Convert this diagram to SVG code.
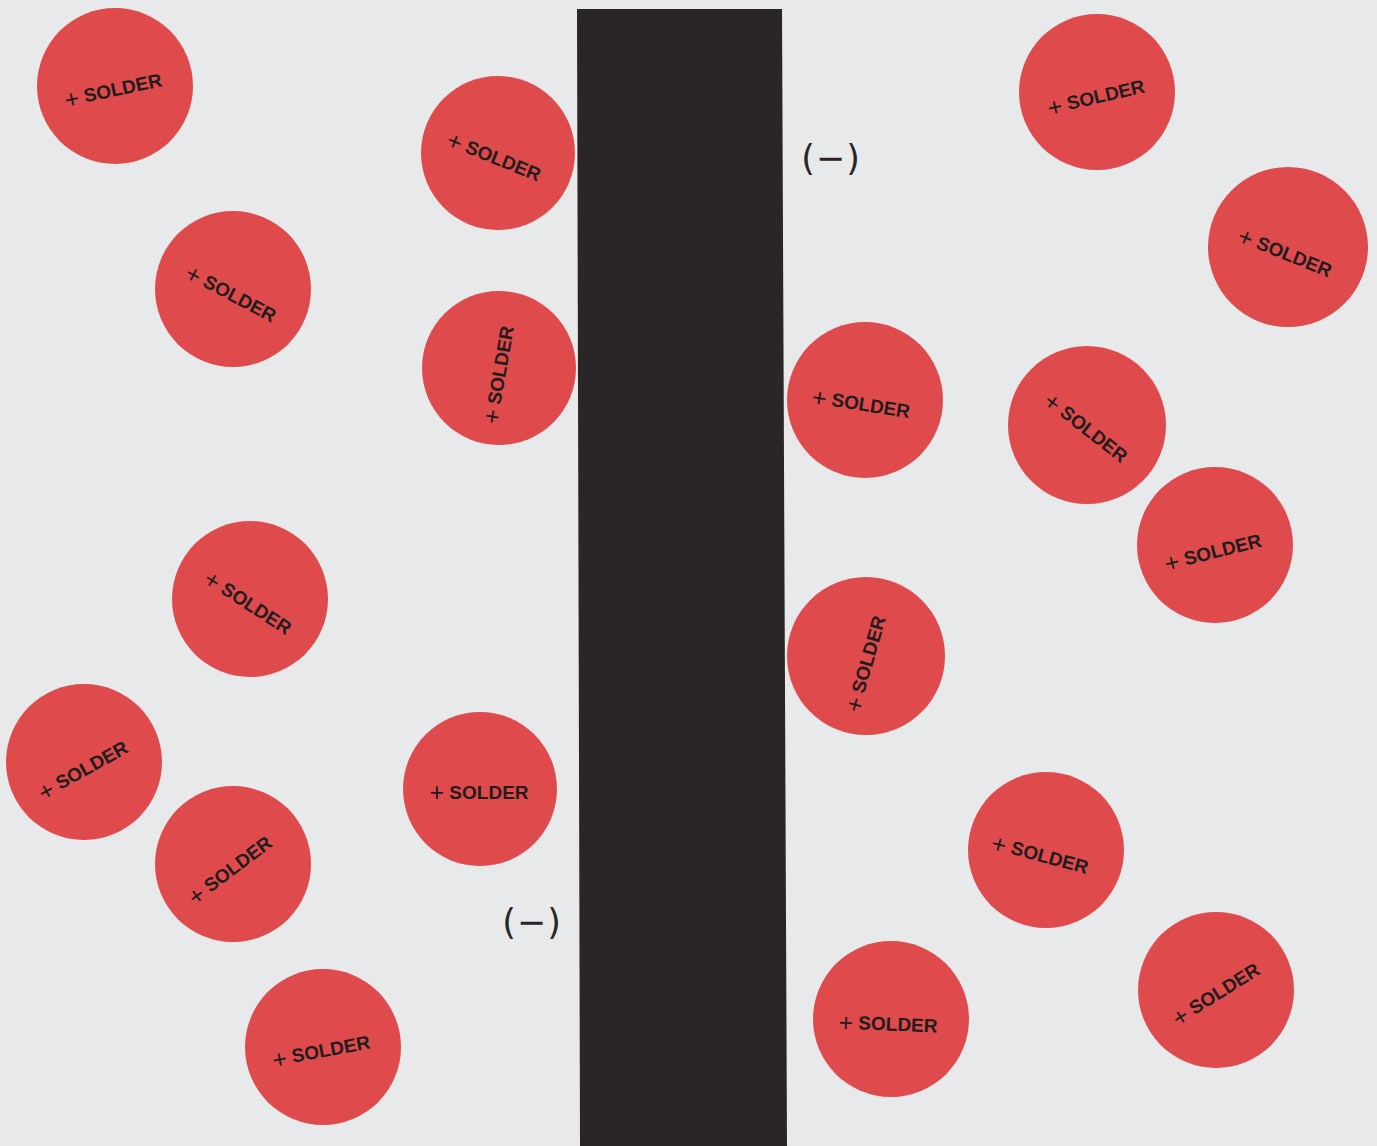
<svg xmlns="http://www.w3.org/2000/svg" width="1377" height="1146" viewBox="0 0 1377 1146">
<style>
.dot{fill:#df4b4d}
.lbl{font-family:"Liberation Sans",Arial,sans-serif;font-weight:700;font-size:19px;fill:#231c1d;text-anchor:middle;dominant-baseline:central}
.pl{font-size:25px;font-weight:400}
.neg{font-family:"DejaVu Sans","Liberation Sans",sans-serif;font-weight:400;font-size:35px;fill:#2a2627;text-anchor:middle;letter-spacing:1px}
</style>
<rect x="0" y="0" width="1377" height="1146" fill="#e8e9ea"/>
<g id="bar"><polygon points="577,9 782,9 787,1146 580,1146" fill="#2a2627"/></g>
<g id="neg-top"><text class="neg" x="831" y="170">(−)</text></g>
<g id="neg-bottom"><text class="neg" x="532" y="934">(−)</text></g>
<g id="s1"><circle class="dot" cx="115" cy="86" r="78"/><text class="lbl" transform="translate(113,90) rotate(-12)"><tspan class="pl">+</tspan> SOLDER</text></g>
<g id="s2"><circle class="dot" cx="498" cy="153" r="77"/><text class="lbl" transform="translate(494,157) rotate(22)"><tspan class="pl">+</tspan> SOLDER</text></g>
<g id="s3"><circle class="dot" cx="1097" cy="92" r="78"/><text class="lbl" transform="translate(1096,97) rotate(-13)"><tspan class="pl">+</tspan> SOLDER</text></g>
<g id="s4"><circle class="dot" cx="1288" cy="247" r="80"/><text class="lbl" transform="translate(1285,253) rotate(22)"><tspan class="pl">+</tspan> SOLDER</text></g>
<g id="s5"><circle class="dot" cx="233" cy="289" r="78"/><text class="lbl" transform="translate(231,294) rotate(28)"><tspan class="pl">+</tspan> SOLDER</text></g>
<g id="s6"><circle class="dot" cx="499" cy="368" r="77"/><text class="lbl" transform="translate(499,375) rotate(-80)"><tspan class="pl">+</tspan> SOLDER</text></g>
<g id="s7"><circle class="dot" cx="865" cy="400" r="78"/><text class="lbl" transform="translate(861,404) rotate(9)"><tspan class="pl">+</tspan> SOLDER</text></g>
<g id="s8"><circle class="dot" cx="1087" cy="425" r="79"/><text class="lbl" transform="translate(1086,428) rotate(38)"><tspan class="pl">+</tspan> SOLDER</text></g>
<g id="s9"><circle class="dot" cx="1215" cy="545" r="78"/><text class="lbl" transform="translate(1213,552) rotate(-14)"><tspan class="pl">+</tspan> SOLDER</text></g>
<g id="s10"><circle class="dot" cx="250" cy="599" r="78"/><text class="lbl" transform="translate(248,603) rotate(33)"><tspan class="pl">+</tspan> SOLDER</text></g>
<g id="s11"><circle class="dot" cx="866" cy="656" r="79"/><text class="lbl" transform="translate(866,664) rotate(-74)"><tspan class="pl">+</tspan> SOLDER</text></g>
<g id="s12"><circle class="dot" cx="84" cy="762" r="78"/><text class="lbl" transform="translate(83,770) rotate(-29)"><tspan class="pl">+</tspan> SOLDER</text></g>
<g id="s13"><circle class="dot" cx="480" cy="789" r="77"/><text class="lbl" transform="translate(479,792)"><tspan class="pl">+</tspan> SOLDER</text></g>
<g id="s14"><circle class="dot" cx="233" cy="864" r="78"/><text class="lbl" transform="translate(230,870) rotate(-37)"><tspan class="pl">+</tspan> SOLDER</text></g>
<g id="s15"><circle class="dot" cx="1046" cy="850" r="78"/><text class="lbl" transform="translate(1040,855) rotate(15)"><tspan class="pl">+</tspan> SOLDER</text></g>
<g id="s16"><circle class="dot" cx="323" cy="1047" r="78"/><text class="lbl" transform="translate(321,1051) rotate(-10.6)"><tspan class="pl">+</tspan> SOLDER</text></g>
<g id="s17"><circle class="dot" cx="891" cy="1019" r="78"/><text class="lbl" transform="translate(888,1024) rotate(2.3)"><tspan class="pl">+</tspan> SOLDER</text></g>
<g id="s18"><circle class="dot" cx="1216" cy="990" r="78"/><text class="lbl" transform="translate(1216,994) rotate(-32)"><tspan class="pl">+</tspan> SOLDER</text></g>
</svg>
